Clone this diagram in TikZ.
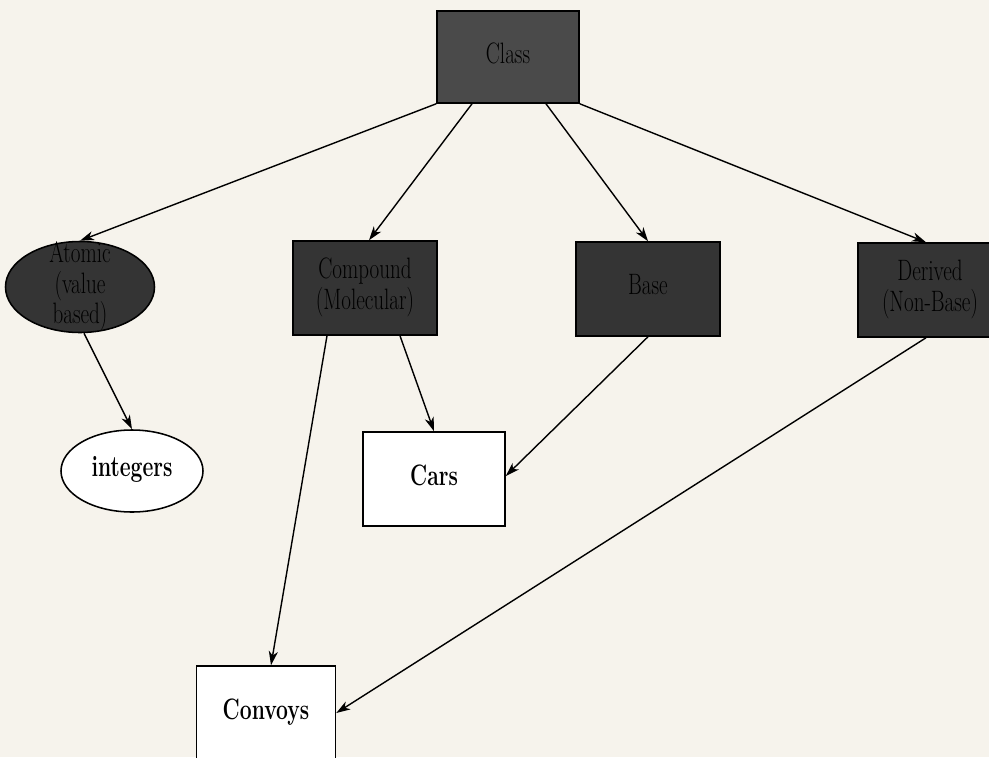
\documentclass[tikz,border=0pt]{standalone}
\usepackage{xcolor}
\usepackage{graphicx}
\usepackage{tikz}
\usetikzlibrary{positioning}
\usetikzlibrary{arrows.meta}
\usetikzlibrary{shapes.geometric}
\newcommand{\bwidth}{3.55cm}
\newcommand{\bheight}{2.35cm}
% printer output: letters come out tall and narrow
\newcommand{\lbl}[1]{\scalebox{1}[1.4]{\begin{tabular}{@{}c@{}}#1\end{tabular}}}
\definecolor{paper}{RGB}{246,243,236}
\definecolor{shade}{RGB}{52,52,52}
\definecolor{shadelt}{RGB}{74,74,74}

\tikzset{
	cls/.style={draw=black, line width=1.1pt, minimum width=\bwidth, minimum height=\bheight,
		inner sep=2pt, align=center, font=\fontsize{15}{14.5}\selectfont},
	abstr/.style={cls, fill=shade},
	concr/.style={cls, fill=white, font=\fontsize{15}{14.5}\selectfont\bfseries},
	isa/.style={-{Stealth[length=10pt, width=6.5pt, inset=3pt]}, line width=1pt}
}

\begin{document}
\begin{tikzpicture}
	\fill[paper] (0,0) rectangle (24.725,-18.925);
	\useasboundingbox (0,0) rectangle (24.725,-18.925);

	% top of the hierarchy
	\node[abstr, fill=shadelt, minimum height=2.3cm]	(class)	at (12.7,-1.425)	{\lbl{Class}};

	% second level
	\node[abstr, ellipse, minimum width=3.725cm, minimum height=2.275cm, inner sep=0pt]
														(atomic)	at (2.0,-7.175)		{};
	\node[font=\fontsize{15}{14.5}\selectfont, inner sep=0pt]
														(atomictxt)	at (atomic)			{\lbl{Atomic\\(value\\based)}};
	\node[abstr, minimum width=3.6cm]					(compound)	at (9.125,-7.2)		{\lbl{Compound\\(Molecular)}};
	\node[abstr, minimum width=3.6cm]					(base)		at (16.2,-7.225)	{\lbl{Base}};
	\node[abstr, minimum width=3.6cm]					(derived)	at (23.25,-7.25)	{\lbl{Derived\\(Non-Base)}};

	% leaves
	\node[concr, ellipse, minimum width=3.55cm, minimum height=2.05cm, inner sep=0pt]
														(integers)	at (3.3,-11.775)	{\lbl{integers}};
	\node[concr]										(cars)		at (10.85,-11.975)	{\lbl{Cars}};
	\node[concr, minimum width=3.475cm]					(convoys)	at (6.65,-17.825)	{\lbl{Convoys}};

	% is-a links
	\draw[isa]	(class.south west)				-- (atomic.north);
	\draw[isa]	([xshift=-0.9cm]class.south)	-- ([xshift=0.1cm]compound.north);
	\draw[isa]	([xshift=0.95cm]class.south)	-- (base.north);
	\draw[isa]	(class.south east)				-- ([xshift=-0.1cm]derived.north);

	\draw[isa]	([xshift=0.1cm]atomic.south)	-- (integers.north);
	\draw[isa]	([xshift=0.875cm]compound.south)	-- (cars.north);
	\draw[isa]	(base.south)					-- ([yshift=0.075cm]cars.east);
	\draw[isa]	([xshift=-0.95cm]compound.south)	-- ([xshift=0.125cm]convoys.north);
	\draw[isa]	([xshift=-0.1cm]derived.south)	-- (convoys.east);
\end{tikzpicture}
\end{document}
